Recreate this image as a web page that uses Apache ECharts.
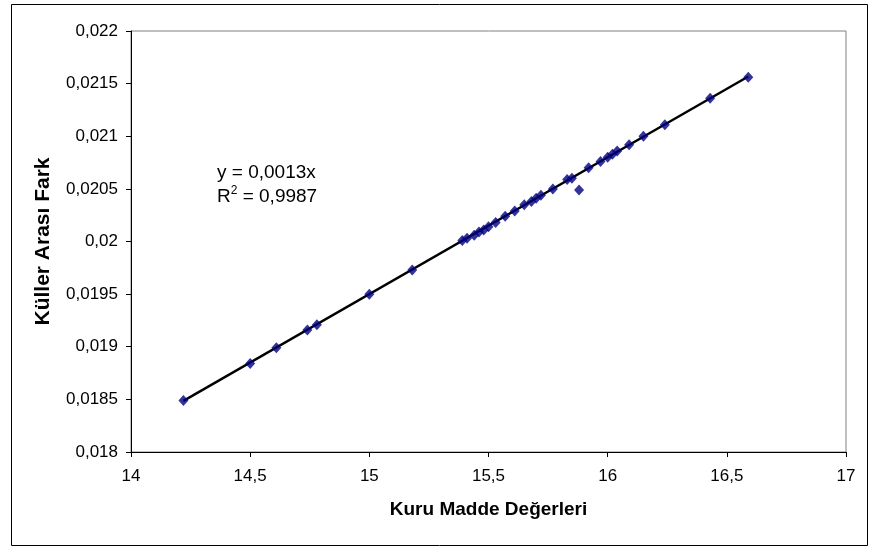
<!DOCTYPE html>
<html>
<head>
<meta charset="utf-8">
<script src="https://cdn.jsdelivr.net/npm/echarts@6/dist/echarts.min.js"></script>
<style>
html,body{margin:0;padding:0;background:#fff;}
#c{width:869px;height:546px;}
</style>
</head>
<body>
<div id="c"></div>
<script>
var kuruMadde = [14.22,14.50,14.61,14.74,14.78,15.00,15.18,15.39,15.41,15.44,15.46,15.48,15.50,15.53,15.57,15.61,15.65,15.68,15.70,15.72,15.77,15.83,15.85,15.88,15.92,15.97,16.00,16.02,16.04,16.09,16.15,16.24,16.43,16.59];
var kullerFark = [0.01849,0.01884,0.01899,0.01916,0.01921,0.01950,0.01973,0.02001,0.02003,0.02006,0.02009,0.02011,0.02014,0.02018,0.02024,0.02029,0.02035,0.02038,0.02041,0.02044,0.02050,0.02059,0.02060,0.02049,0.02070,0.02076,0.02080,0.02083,0.02086,0.02092,0.02100,0.02111,0.02136,0.02156];
var trendX = [14.22, 16.59];
var trendY = [0.018486, 0.021567];
var xTitle = 'Kuru Madde Değerleri';
var yTitle = 'Küller Arası Fark';
var eqLine1 = 'y = 0,0013x';
var eqLine2 = '0,9987';

var pts = kuruMadde.map(function(x,i){return [x, kullerFark[i]];});
var trend = trendX.map(function(x,i){return [x, trendY[i]];});
function fmt(v){ return parseFloat(v.toFixed(6)).toString().replace('.', ','); }
var FONT = '"Liberation Sans", Arial, sans-serif';

var chart = echarts.init(document.getElementById('c'), null, {renderer:'canvas'});
chart.setOption({
  animation:false,
  backgroundColor:'#ffffff',
  grid:{left:131, right:23, top:31, bottom:94, show:true, borderColor:'#808080', borderWidth:1},
  xAxis:{
    type:'value', min:14, max:17, interval:0.5,
    name:xTitle, nameLocation:'middle', nameGap:48,
    nameTextStyle:{fontFamily:FONT, fontSize:19, fontWeight:'bold', color:'#000'},
    axisLine:{show:true, onZero:false, lineStyle:{color:'#000', width:1}},
    axisTick:{show:true, length:5, inside:false, lineStyle:{color:'#000'}},
    axisLabel:{formatter:fmt, fontFamily:FONT, fontSize:17, color:'#000', margin:16},
    splitLine:{show:false}
  },
  yAxis:{
    type:'value', min:0.018, max:0.022, interval:0.0005,
    name:yTitle, nameLocation:'middle', nameGap:77, nameRotate:90,
    nameTextStyle:{fontFamily:FONT, fontSize:21, fontWeight:'bold', color:'#000'},
    axisLine:{show:true, onZero:false, lineStyle:{color:'#000', width:1}},
    axisTick:{show:true, length:5, inside:false, lineStyle:{color:'#000'}},
    axisLabel:{formatter:fmt, fontFamily:FONT, fontSize:17, color:'#000', margin:13},
    splitLine:{show:false}
  },
  series:[
    {type:'line', data:trend, symbol:'none', lineStyle:{color:'#000', width:2.4}, z:2, silent:true},
    {type:'scatter', data:pts, symbol:'diamond', symbolSize:[10,11], itemStyle:{color:'#000080'}, z:3}
  ],
  graphic:[
    {type:'rect', left:9, top:2, shape:{width:856, height:541}, style:{fill:'none', stroke:'#000', lineWidth:1}, z:-1},
    {type:'text', left:217, top:163, style:{text:eqLine1, font:'19px '+FONT, fill:'#000'}},
    {type:'text', left:217, top:185, style:{text:'{a|R}{s|2}{a| = '+eqLine2+'}', rich:{a:{fontFamily:FONT, fontSize:19, color:'#000', verticalAlign:'bottom'}, s:{fontFamily:FONT, fontSize:12, color:'#000', verticalAlign:'top', padding:[0,0,9,0]}}}}
  ]
});
</script>
</body>
</html>
